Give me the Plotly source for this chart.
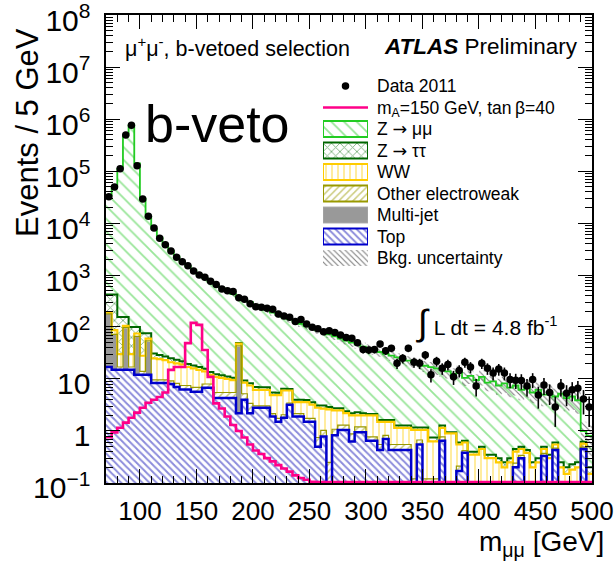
import numpy as np
import plotly.graph_objects as go

# ---------------- data (5 GeV bins from 70 to 500 GeV) ----------------
bin_low = list(range(70, 500, 5))
bin_width = 5

data_2011 = [32000, 49000, 110000, 490000, 760000, 126000, 29000, 13500, 8000, 5100,
             3800, 2900, 2200, 1800, 1500, 1200, 1000, 910, 760, 660,
             540, 500, 480, 365, 340, 280, 245, 239, 229, 219,
             178, 163, 154, 127, 140, 114, 99, 92, 81, 85,
             78, 70, 63, 61, 50, 37, 36, 37, 47, 35,
             39, 20, 25, 39, 21, 20, 29, 12, 22, 16,
             19, 11, 14.5, 21, 17, 7.3, 20, 16, 13, 15.5,
             13, 9.8, 9.5, 9.3, 7.3, 9.8, 4.9, 7.7, 5.5, 2.9,
             7.3, 5.3, 6.2, 6.6, 4.1, 2.9]

top = [17, 15, 15, 15, 15, 12, 12, 12, 8.4, 8.4,
       8.4, 8, 7, 6.3, 6.3, 5.7, 5.7, 6.8, 6.8, 4.3,
       4.3, 4.3, 4.3, 2.2, 4.0, 2.2, 2.8, 2.8, 2.8, 1.9,
       1.5, 1.8, 3.2, 1.9, 1.9, 1.5, 1.5, 0.5, 0.78, 0,
       0.83, 1.05, 1.05, 0.63, 0.95, 0.95, 0.65, 0.65, 0.43, 0.7,
       0.43, 0.43, 0.43, 0.43, 0, 0.55, 0, 0, 0, 0.65,
       0, 0, 0.17, 0.38, 0, 0, 0, 0, 0, 0,
       0, 0, 0.2, 0.3, 0, 0, 0, 0.33, 0, 0.43,
       0, 0, 0, 0, 0.45, 0]

multijet = [160, 55, 0, 80, 0, 52, 0, 40, 0, 0,
            0, 0, 0, 0, 0, 0, 0, 0, 0, 0,
            0, 0, 0, 40, 0, 0, 0, 0, 0, 0,
            0, 0, 0, 0, 0, 0, 0, 0, 0, 0,
            0, 0, 0, 0, 0, 0, 0, 0, 0, 0,
            0, 0, 0, 0, 0, 0, 0, 0, 0, 0,
            0, 0, 0, 0, 0, 0, 0, 0, 0, 0,
            0, 0, 0, 0, 0, 0, 0, 0, 0, 0,
            0, 0, 0, 0, 0, 0]

other_ew = [2, 2, 2, 2, 2, 2, 2, 2, 1.2, 1.2,
            1.2, 1.2, 1.2, 1.2, 1.2, 1.2, 1.2, 1.2, 1.2, 1.2,
            1.2, 1.2, 1.2, 1.2, 1.2, 1.2, 0.25, 0.25, 0.25, 0.25,
            0.25, 0.25, 0.25, 0.25, 0.25, 0.25, 0.25, 0.25, 0.25, 0.25,
            0.25, 0.25, 0.25, 0.25, 0.25, 0.25, 0.12, 0.12, 0.12, 0.12,
            0.12, 0.12, 0.12, 0.12, 0.12, 0.12, 0.12, 0.12, 0.12, 0.12,
            0.04, 0.04, 0.04, 0.04, 0.04, 0.04, 0.04, 0.04, 0.04, 0.04,
            0.04, 0.04, 0.04, 0.04, 0.04, 0.04, 0.04, 0.04, 0.04, 0.04,
            0.04, 0.04, 0.04, 0.04, 0.04, 0.04]

ww = [11, 15, 13, 8, 13, 9, 14, 6, 15.4, 14.4,
      13.4, 11.8, 11.8, 11.5, 9.5, 9.1, 8.1, 6, 4, 5.5,
      5, 4.5, 4, 4.6, 3.3, 4.1, 3.15, 3.15, 3.15, 2.75,
      3.15, 3.95, 2.55, 1.45, 1.45, 1.85, 1.45, 2.05, 1.67, 2.35,
      1.42, 1.2, 0.9, 1.12, 0.8, 0.8, 1.23, 1.23, 0.95, 0.68,
      0.95, 0.6, 0.6, 0.6, 0.93, 0.38, 0.93, 0.51, 0.51, 0.38,
      0.86, 0.86, 0.34, 0.18, 0.31, 0.31, 0.41, 0.26, 0.26, 0.21,
      0.16, 0.21, 0.16, 0.11, 0.34, 0.16, 0.21, 0.08, 0.26, 0.08,
      0.16, 0.11, 0.14, 0.16, 0.08, 0.11]

ztautau = [230, 333, 125, 50, 70, 25, 48, 16, 6, 5,
           4, 4, 3.5, 3, 2.5, 2.2, 2, 1.8, 1.6, 1.4,
           1.3, 1.2, 1.1, 1.0, 0.9, 0.8, 0.8, 0.7, 0.7, 0.6,
           0.55, 0.5, 0.45, 0.4, 0.4, 0.35, 0.35, 0.3, 0.4, 0.3,
           0.25, 0.25, 0.2, 0.2, 0.3, 0.2, 0.12, 0.12, 0.12, 0.12,
           0.12, 0.12, 0.12, 0.12, 0.12, 0.12, 0.12, 0.12, 0.12, 0.12,
           0.05, 0.05, 0.05, 0.05, 0.05, 0.05, 0.05, 0.05, 0.05, 0.05,
           0.05, 0.05, 0.05, 0.05, 0.05, 0.05, 0.05, 0.05, 0.05, 0.05,
           0.05, 0.05, 0.05, 0.05, 0.05, 0.05]

zmumu = [33580, 49580, 109845, 489845, 759900, 139900, 28924, 12924, 7769, 5171,
         3773, 2875, 2226, 1778, 1460, 1202, 1003, 854, 736, 638,
         548, 479, 419, 331, 326, 292, 258, 228, 205, 184.5,
         164.5, 148.5, 133.5, 123, 111, 100, 91.5, 82.9, 75.9, 69.1,
         63.2, 57.2, 52.6, 47.8, 43.7, 39.8, 36.9, 33.9, 31.4, 28.9,
         26.4, 24.7, 22.7, 21.2, 19.8, 18.3, 16.8, 16.2, 15.2, 13.7,
         13.05, 11.55, 13.4, 9.85, 11.1, 9.1, 10.5, 8.15, 8.65, 7.2,
         7.95, 6.55, 7.05, 5.7, 6.57, 5.25, 5.9, 4.5, 5.25, 4.0,
         4.95, 4.1, 4.37, 3.65, 0.38, 0.6]

signal_mA150 = [0.76, 0.94, 1.15, 1.45, 1.8, 2.25, 2.8, 3.5, 4.0, 4.5,
                5.5, 15, 17, 17, 49, 120, 110, 36, 11, 3.4,
                2.7, 1.9, 1.3, 1.0, 0.75, 0.55, 0.42, 0.36, 0.3, 0.26,
                0.22, 0.19, 0.165, 0.14, 0.125, 0.115, 0.105, 0.104, 0.104, 0.104,
                0.104, 0.104, 0.104, 0.104, 0.104, 0.104, 0.104, 0.104, 0.104, 0.104,
                0.104, 0.104, 0.104, 0.104, 0.104, 0.104, 0.104, 0.104, 0.104, 0.104,
                0.104, 0.104, 0.104, 0.104, 0.104, 0.104, 0.104, 0.104, 0.104, 0.104,
                0.104, 0.104, 0.104, 0.104, 0.104, 0.104, 0.104, 0.104, 0.104, 0.104,
                0.104, 0.104, 0.104, 0.104, 0.104, 0.104]

bkg_unc_rel = [0.06, 0.06, 0.05, 0.05, 0.05, 0.05, 0.06, 0.06, 0.07, 0.07,
               0.07, 0.08, 0.08, 0.08, 0.08, 0.09, 0.09, 0.09, 0.1, 0.1,
               0.1, 0.1, 0.1, 0.12, 0.1, 0.11, 0.11, 0.11, 0.12, 0.12,
               0.12, 0.12, 0.13, 0.13, 0.13, 0.14, 0.14, 0.14, 0.15, 0.15,
               0.15, 0.16, 0.16, 0.17, 0.17, 0.18, 0.18, 0.19, 0.19, 0.2,
               0.2, 0.21, 0.21, 0.22, 0.22, 0.23, 0.24, 0.25, 0.25, 0.26,
               0.27, 0.28, 0.28, 0.3, 0.3, 0.3, 0.32, 0.32, 0.33, 0.34,
               0.35, 0.35, 0.36, 0.37, 0.38, 0.38, 0.4, 0.4, 0.42, 0.42,
               0.43, 0.44, 0.45, 0.45, 0.5, 0.6]

ARROW = "<span style='font-family:DejaVu Sans'>\u2192</span>"
legend_keys = ["data", "signal", "zmumu", "ztautau", "ww", "oew", "mj", "top", "unc"]
legend_labels = ["Data 2011", "m<sub>A</sub>=150 GeV, tan\u2009\u03b2=40",
                 "Z " + ARROW + " \u03bc\u03bc", "Z " + ARROW + " \u03c4\u03c4", "WW",
                 "Other electroweak", "Multi-jet", "Top", "Bkg. uncertainty"]

# ---------------- derived stacking ----------------
edges = np.array(bin_low + [bin_low[-1] + bin_width], dtype=float)
centers = np.array(bin_low, dtype=float) + bin_width / 2.0

c_top = np.array(top, float)
c_mj = c_top + np.array(multijet, float)
c_oew = c_mj + np.array(other_ew, float)
c_ww = c_oew + np.array(ww, float)
c_ztt = c_ww + np.array(ztautau, float)
c_zmm = c_ztt + np.array(zmumu, float)
unc = np.array(bkg_unc_rel, float)


def step(vals):
    v = np.maximum(np.asarray(vals, float), 1e-3)
    return np.append(v, v[-1])


FONT = "Liberation Sans, Arial, Helvetica, sans-serif"
C_ZMM = "#22cc22"
C_ZMM_H = "#33cc33"
C_ZTT = "#006600"
C_WW = "#ffcc00"
C_OEW = "#999900"
C_MJ = "#999999"
C_TOP = "#0000cc"
C_TOP_H = "#1a1ab8"
C_SIG = "#ff0088"

PAT_ZMM = dict(shape="\\", fgcolor=C_ZMM_H, bgcolor="white", size=9, solidity=0.2)
PAT_ZTT = dict(shape="x", fgcolor=C_ZTT, bgcolor="white", size=6, solidity=0.28)
PAT_WW = dict(shape="|", fgcolor=C_WW, bgcolor="white", size=6, solidity=0.25)
PAT_OEW = dict(shape="/", fgcolor=C_OEW, bgcolor="white", size=5, solidity=0.3)
PAT_TOP = dict(shape="\\", fgcolor=C_TOP_H, bgcolor="white", size=5, solidity=0.4)
PAT_UNC = dict(shape="\\", fgcolor="black", bgcolor="rgba(0,0,0,0)", size=4, solidity=0.28)

fig = go.Figure()

# baseline below the axis
fig.add_trace(go.Scatter(x=edges, y=step(np.zeros(len(bin_low))), mode="lines",
                         line=dict(width=0, shape="hv"), showlegend=False, hoverinfo="skip"))

fills = [(c_top, PAT_TOP, None), (c_mj, None, C_MJ), (c_oew, PAT_OEW, None),
         (c_ww, PAT_WW, None), (c_ztt, PAT_ZTT, None), (c_zmm, PAT_ZMM, None)]
for vals, pat, solid in fills:
    kw = dict(x=edges, y=step(vals), mode="lines", line=dict(width=0, shape="hv"),
              fill="tonexty", showlegend=False, hoverinfo="skip")
    if pat is not None:
        kw["fillpattern"] = pat
        kw["fillcolor"] = "white"
    else:
        kw["fillcolor"] = solid
    fig.add_trace(go.Scatter(**kw))

# background uncertainty band
fig.add_trace(go.Scatter(x=edges, y=step(c_zmm * (1 - unc)), mode="lines",
                         line=dict(width=0, shape="hv"), showlegend=False, hoverinfo="skip"))
fig.add_trace(go.Scatter(x=edges, y=step(c_zmm * (1 + unc)), mode="lines",
                         line=dict(width=0, shape="hv"), fill="tonexty",
                         fillcolor="rgba(0,0,0,0)", fillpattern=PAT_UNC,
                         showlegend=False, hoverinfo="skip"))

# outlines
for vals, col, w in [(c_zmm, C_ZMM, 1.8), (c_ztt, C_ZTT, 2), (c_ww, C_WW, 2.2),
                     (c_oew, C_OEW, 1.2), (c_top, C_TOP, 2.5)]:
    fig.add_trace(go.Scatter(x=edges, y=step(vals), mode="lines",
                             line=dict(color=col, width=w, shape="hv"),
                             showlegend=False, hoverinfo="skip"))

# signal
fig.add_trace(go.Scatter(x=edges, y=step(signal_mA150), mode="lines",
                         line=dict(color=C_SIG, width=2.6, shape="hv"), showlegend=False))

# data
d = np.array(data_2011, float)
fig.add_trace(go.Scatter(x=centers, y=d, mode="markers",
                         marker=dict(color="black", size=7.5),
                         error_y=dict(type="data", array=np.sqrt(d), color="black",
                                      thickness=1.6, width=0),
                         showlegend=False))

# ---------------- legend drawn on a helper subplot ----------------
leg_boxes = [
    ("zmumu", "white", PAT_ZMM, C_ZMM, 2),
    ("ztautau", "white", PAT_ZTT, C_ZTT, 2),
    ("ww", "white", PAT_WW, C_WW, 2),
    ("oew", "white", PAT_OEW, C_OEW, 2),
    ("mj", C_MJ, None, "#aaaaaa", 1),
    ("top", "white", PAT_TOP, C_TOP, 2),
    ("unc", "rgba(0,0,0,0)", PAT_UNC, "black", 0),
]
for key, col, pat, lcol, lw in leg_boxes:
    mk = dict(color=col, line=dict(color=lcol, width=lw))
    if pat is not None:
        mk["pattern"] = pat
    fig.add_trace(go.Bar(x=[1], y=[key], orientation="h", width=0.74, marker=mk,
                         xaxis="x2", yaxis="y2", showlegend=False, hoverinfo="skip"))
fig.add_trace(go.Scatter(x=[0.5], y=["data"], mode="markers",
                         marker=dict(color="black", size=7.5), xaxis="x2", yaxis="y2",
                         showlegend=False))
fig.add_trace(go.Scatter(x=[0, 1], y=["signal", "signal"], mode="lines",
                         line=dict(color=C_SIG, width=2.6), xaxis="x2", yaxis="y2",
                         showlegend=False))

# ---------------- layout ----------------
L, R, T, B = 106, 22, 15, 80
W, H = 614, 563
PW, PH = W - L - R, H - T - B


def px(xp):
    return (xp - L) / PW


def py(yp):
    return (H - B - yp) / PH


axis_common = dict(showline=True, linecolor="black", linewidth=1.5, mirror="allticks",
                   ticks="inside", tickcolor="black", tickwidth=1.3, ticklen=14,
                   showgrid=False, zeroline=False, automargin=False)

fig.update_layout(
    width=W, height=H, autosize=False,
    margin=dict(l=L, r=R, t=T, b=B, autoexpand=False),
    paper_bgcolor="white", plot_bgcolor="rgba(0,0,0,0)",
    font=dict(family=FONT, color="black"),
    barmode="overlay",
    showlegend=False,
    xaxis=dict(range=[70, 500], tick0=0, dtick=50,
               minor=dict(ticks="inside", ticklen=7, dtick=10, tickcolor="black", tickwidth=1.2),
               tickfont=dict(size=26, family=FONT), ticklabelstandoff=4,
               ticklabeloverflow="allow", **axis_common),
    yaxis=dict(type="log", range=[-1.0005, 8.0005], dtick=1, exponentformat="power",
               minor=dict(ticks="inside", ticklen=7, dtick="D1", tickcolor="black", tickwidth=1.2),
               tickfont=dict(size=24, family=FONT), ticklabelstandoff=9, ticklabelshift=5,
               ticklabeloverflow="allow", **axis_common),
    xaxis2=dict(domain=[px(323), px(368)], range=[0, 1], visible=False, anchor="y2",
                fixedrange=True, automargin=False),
    yaxis2=dict(domain=[py(86 + 21.5 * 8.5), py(86 - 21.5 * 0.5)], type="category",
                categoryorder="array", categoryarray=legend_keys,
                tickmode="array", tickvals=legend_keys, ticktext=legend_labels,
                range=[8.5, -0.5], anchor="x2", side="right", showline=False,
                ticks="", showgrid=False, zeroline=False, fixedrange=True, automargin=False,
                tickfont=dict(size=17.5, family=FONT), ticklabelstandoff=8),
)

ann = [
    dict(text="Events / 5 GeV", x=px(27), y=py(133), textangle=-90,
         xanchor="center", yanchor="middle", font=dict(size=31)),
    dict(text="m<sub>\u03bc\u03bc</sub> [GeV]", x=px(606), y=py(543),
         xanchor="right", yanchor="middle", font=dict(size=28)),
    dict(text="\u03bc<sup>+</sup>\u03bc<sup>-</sup>, b-vetoed selection", x=px(123), y=py(47),
         xanchor="left", yanchor="middle", font=dict(size=21.5)),
    dict(text="<b><i>ATLAS</i></b> Preliminary", x=px(580), y=py(47),
         xanchor="right", yanchor="middle", font=dict(size=22.5)),
    dict(text="b-veto", x=px(143), y=py(124), xanchor="left", yanchor="middle",
         font=dict(size=52)),
    dict(text="<span style='font-size:36px'>\u222b</span> L dt = 4.8 fb<sup>-1</sup>",
         x=px(414), y=py(322), xanchor="left", yanchor="middle", font=dict(size=21)),
]
for a in ann:
    a.update(xref="paper", yref="paper", showarrow=False)
    a["font"] = dict(family=FONT, color="black", **a["font"])
fig.update_layout(annotations=ann)

fig.write_html("out.html")
